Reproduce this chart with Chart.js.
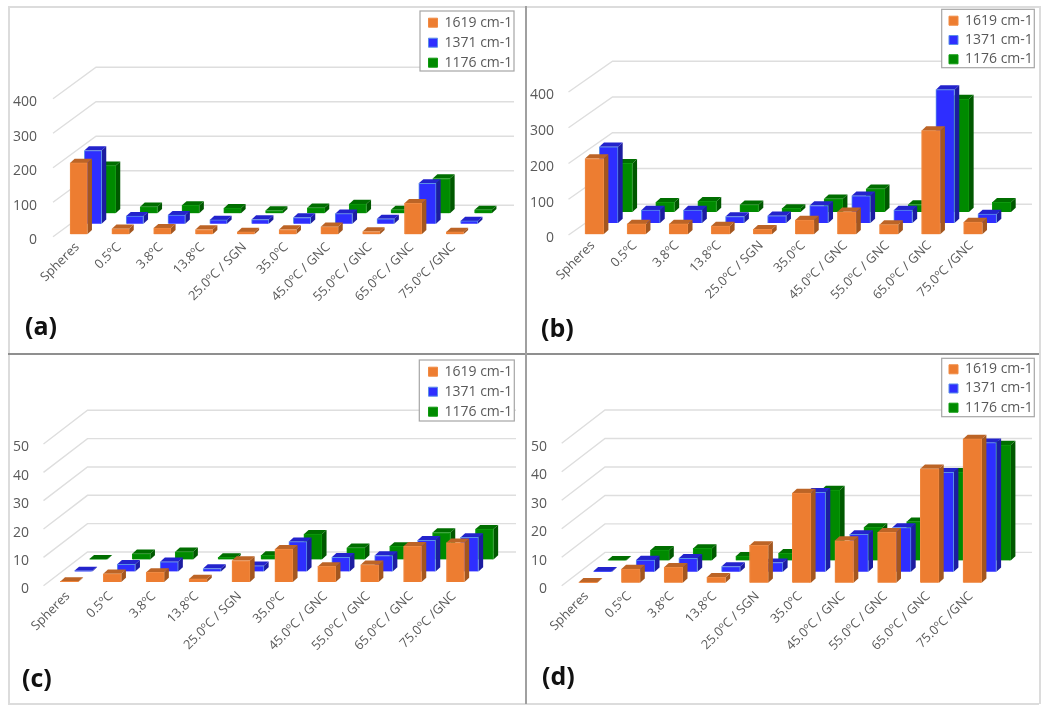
<!DOCTYPE html>
<html><head><meta charset="utf-8">
<style>
html,body{margin:0;padding:0;background:#fff;width:1050px;height:710px;overflow:hidden}
canvas{position:absolute}
.ln{position:absolute}
</style>
<script src="https://cdn.jsdelivr.net/npm/chart.js@4"></script>
</head><body>
<div class="ln" style="left:8px;top:6px;width:1031px;height:1.5px;background:#dcdcdc"></div>
<div class="ln" style="left:8px;top:6px;width:1.5px;height:698px;background:#dcdcdc"></div>
<div class="ln" style="left:8px;top:703px;width:1031px;height:1.5px;background:#dcdcdc"></div>
<div class="ln" style="left:1039px;top:6px;width:1.5px;height:698px;background:#dcdcdc"></div>
<div class="ln" style="left:8px;top:353px;width:1031px;height:2px;background:#8f8f8f"></div>
<div class="ln" style="left:525px;top:6px;width:2px;height:698px;background:#a0a0a0"></div>
<script>
const categories = ["Spheres","0.5ºC","3.8ºC","13.8ºC","25.0ºC / SGN","35.0ºC","45.0ºC / GNC","55.0ºC / GNC","65.0ºC / GNC","75.0ºC /GNC"];
const seriesNames = ["1619 cm-1","1371 cm-1","1176 cm-1"];

const a1619 = [207,16,18,14,7,14,22,8,90,7];
const a1371 = [212,22,25,11,12,18,29,14,117,8];
const a1176 = [138,19,23,15,8,16,27,10,101,10];

const b1619 = [212,29,29,23,14,40,63,27,290,34];
const b1371 = [213,36,36,18,20,49,76,36,373,25];
const b1176 = [136,27,30,20,10,37,65,21,316,27];

const c1619 = [0.2,2.9,3.4,1.1,7.6,11.6,5.5,6.1,12.6,13.9];
const c1371 = [0.2,2.5,3.4,1.0,2.0,10.5,5.0,5.6,11.0,12.0];
const c1176 = [0.1,2.0,2.7,0.7,1.4,8.9,4.1,4.6,9.5,10.7];

const d1619 = [0.2,4.8,5.4,1.9,13.1,31.5,14.8,17.7,40.0,50.5];
const d1371 = [0.2,4.1,4.7,1.8,3.2,27.9,13.1,15.5,34.9,45.3];
const d1176 = [0.1,3.6,4.2,1.5,2.5,24.7,11.6,13.6,31.0,40.5];

const yTicksMax = [400,400,50,50];
const yTickSteps = [100,100,10,10];
const panelNames = ["(a)","(b)","(c)","(d)"];
const panelValues = [[a1619,a1371,a1176],[b1619,b1371,b1176],[c1619,c1371,c1176],[d1619,d1371,d1176]];

// layout of each panel, in its own 525x355 canvas
const layouts = [
 {ox:0,  oy:0,  left:57.8,right:475.8,y0:236.7,yTop:98.7, w:17.3,lblR:37,wallR:514,backDx:43,backDy:31.5,frontX:53,
  offX:[0,14.3,28.3],offY:[-2.4,-13,-23.4],d:[4.6,4.2],legend:[420,11,94,60],name:[25,328],swatch:[428.5,21.7],rowPad:6},
 {ox:525,oy:0,  left:48.3,right:469, y0:235,  yTop:92,   w:18.7,lblR:29,wallR:507,backDx:44,backDy:30.7,frontX:43.5,
  offX:[0,14.3,28.7],offY:[-0.7,-12,-23],d:[4.7,4.3],legend:[416.7,9.3,92.6,58.4],name:[16,330],swatch:[424,19.7],rowPad:5.3},
 {ox:0,  oy:355,left:47.9,right:476.9,y0:230.7,yTop:89,  w:18,  lblR:29,wallR:516,backDx:44,backDy:33.7,frontX:43.5,
  offX:[0,14,29],offY:[-3.7,-14.3,-26.3],d:[4.7,4.2],legend:[419.3,5,95,61],name:[22,325],swatch:[428.5,15.7],rowPad:6},
 {ox:525,oy:355,left:41.7,right:468.7,y0:230.7,yTop:88.3,w:18.7,lblR:22,wallR:507,backDx:43.3,backDy:33.3,frontX:36.7,
  offX:[0,14.7,29],offY:[-3,-14,-25.3],d:[4.7,4.2],legend:[416.7,3.3,92.6,58.4],name:[17,323],swatch:[424,13.3],rowPad:5.2}
];

const colFront = ["#ED7D31","#2E2EFF","#008A00"];
const colEdge  = ["#F08A42","#5B8FE8","#0E9A0E"];
const colTop   = ["#BC6426","#2323CC","#006E00"];
const colSide  = ["#A3561F","#1C1CA0","#005800"];
const txt = "#595959";

const depthBars = {
  id:"depthBars",
  beforeDraw(chart){
    const L = chart.options.plugins.depthBars.layout, ctx = chart.ctx, ys = chart.scales.y;
    ctx.save();
    ctx.lineWidth = 1.4;
    ys.ticks.forEach(t=>{
      const y = ys.getPixelForValue(t.value);
      ctx.strokeStyle = "#dedede";
      ctx.beginPath();
      ctx.moveTo(L.frontX,y);
      ctx.lineTo(L.frontX+L.backDx,y-L.backDy);
      ctx.lineTo(L.wallR,y-L.backDy);
      ctx.stroke();
    });
    const [lx,ly,lw,lh] = L.legend;
    ctx.fillStyle="#fff"; ctx.fillRect(lx,ly,lw,lh);
    ctx.strokeStyle="#a6a6a6"; ctx.lineWidth=1.2; ctx.strokeRect(lx,ly,lw,lh);
    ctx.restore();
  },
  afterLayout(chart){
    const L = chart.options.plugins.depthBars.layout, lg = chart.legend;
    const w = lg.right-lg.left, h = lg.bottom-lg.top;
    lg.left = L.swatch[0]-L.rowPad; lg.right = lg.left+w;
    lg.top = L.swatch[1]-6-L.rowPad; lg.bottom = lg.top+h;
  },
  beforeDatasetDraw(chart,args){
    const L = chart.options.plugins.depthBars.layout, ctx = chart.ctx, i = args.index;
    ctx.save();
    ctx.translate(L.offX[i],L.offY[i]);
    const [dx,dy] = L.d;
    args.meta.data.forEach(el=>{
      const l = el.x-el.width/2, r = el.x+el.width/2, t = el.y, b = el.base;
      ctx.fillStyle = colSide[i];
      ctx.beginPath();
      ctx.moveTo(r,t);ctx.lineTo(r+dx,t-dy);ctx.lineTo(r+dx,b-dy);ctx.lineTo(r,b);ctx.closePath();ctx.fill();
      ctx.fillStyle = colTop[i];
      ctx.beginPath();
      ctx.moveTo(l,t);ctx.lineTo(r,t);ctx.lineTo(r+dx,t-dy);ctx.lineTo(l+dx,t-dy);ctx.closePath();ctx.fill();
    });
  },
  afterDatasetDraw(chart){ chart.ctx.restore(); },
  afterDraw(chart){
    const o = chart.options.plugins.depthBars, ctx = chart.ctx;
    ctx.save();
    ctx.font = "bold 25px 'Open Sans'";
    ctx.fillStyle = "#111";
    ctx.textAlign = "left"; ctx.textBaseline = "middle";
    ctx.fillText(o.name,o.layout.name[0],o.layout.name[1]);
    ctx.restore();
  }
};
Chart.register(depthBars);

layouts.forEach((L,p)=>{
  const c = document.createElement("canvas");
  c.width = 525; c.height = 355;
  c.style.cssText = `left:${L.ox}px;top:${L.oy}px;width:525px;height:355px;filter:blur(0.35px)`;
  document.body.appendChild(c);
  const opts = {
    responsive:false, animation:false,
    layout:{padding:{left:0,top:L.yTop,right:0,bottom:0}},
    plugins:{
      tooltip:{enabled:false},
      depthBars:{layout:L,name:panelNames[p]},
      legend:{position:"right",align:"start",
        labels:{boxWidth:9,boxHeight:9,padding:L.rowPad,color:txt,font:{family:"'Open Sans'",size:14}}}
    },
    scales:{
      x:{type:"category",grid:{display:false,drawTicks:false},border:{display:false},
        afterFit(s){s.height = 355-L.y0;},
        ticks:{autoSkip:false,minRotation:45,maxRotation:45,padding:3,labelOffset:-1.5,color:txt,font:{family:"'Open Sans'",size:12.8}}},
      y:{min:0,max:yTicksMax[p],grid:{display:false,drawTicks:false},border:{display:false},
        afterFit(s){s.width = L.left;},
        ticks:{stepSize:yTickSteps[p],padding:L.left-L.lblR,labelOffset:3.5,color:txt,font:{family:"'Open Sans'",size:14}}}
    }
  };
  const ch = new Chart(c,{type:"bar",
    data:{labels:categories,datasets:seriesNames.map((n,i)=>({
      label:n,data:panelValues[p][i],backgroundColor:colFront[i],borderColor:colEdge[i],borderWidth:1,
      grouped:false,barThickness:L.w,clip:false}))},
    options:opts});
  ch.config.options.layout.padding.right = ch.chartArea.right-L.right;
  ch.update();
});
</script>
</body></html>
